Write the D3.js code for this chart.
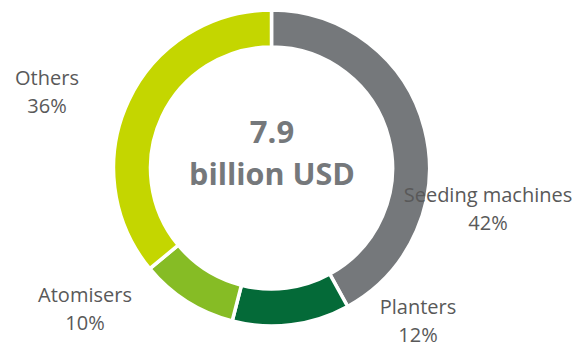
<!DOCTYPE html>
<html>
<head>
<meta charset="utf-8">
<script src="https://cdn.jsdelivr.net/npm/d3@7"></script>
<style>
  html, body { margin: 0; padding: 0; background: #fff; }
  svg { display: block; }
</style>
</head>
<body>
<svg id="chart" width="579" height="347"></svg>
<script>
const categories = ["Seeding machines", "Planters", "Atomisers", "Others"];
const shares = [42, 12, 10, 36];
const shareLabels = ["42%", "12%", "10%", "36%"];
const colors = ["#75787B", "#046A38", "#86BC25", "#C4D600"];
const centerLines = ["7.9", "billion USD"];
// label anchor positions (centre of text block, first baseline)
const labelPos = [[488, 202], [418, 314], [85, 302], [47, 85]];

const svg = d3.select("#chart");
const cx = 271.5, cy = 168, outerR = 158, innerR = 121;

const pie = d3.pie().sort(null).value(d => d.v);
const arc = d3.arc().innerRadius(innerR).outerRadius(outerR);
const data = categories.map((c, i) => ({ c, v: shares[i], i }));

const g = svg.append("g").attr("transform", `translate(${cx},${cy})`);
g.selectAll("path").data(pie(data)).join("path")
  .attr("d", arc)
  .attr("fill", d => colors[d.data.i])
  .attr("stroke", "#fff")
  .attr("stroke-width", 3.5)
  .attr("stroke-linejoin", "miter");

const font = "'Open Sans', sans-serif";
const lab = svg.append("g");
data.forEach((d, i) => {
  const t = lab.append("text")
    .attr("x", labelPos[i][0]).attr("y", labelPos[i][1])
    .attr("text-anchor", "middle")
    .attr("font-family", font).attr("font-size", 20)
    .attr("fill", "#595959");
  t.append("tspan").attr("x", labelPos[i][0]).text(d.c);
  t.append("tspan").attr("x", labelPos[i][0]).attr("dy", 28).text(shareLabels[i]);
});

svg.append("text")
  .attr("x", 272).attr("y", 143)
  .attr("text-anchor", "middle")
  .attr("font-family", font).attr("font-weight", 700).attr("font-size", 31)
  .attr("fill", "#75787B")
  .text(centerLines[0]);
svg.append("text")
  .attr("x", 272).attr("y", 185)
  .attr("text-anchor", "middle")
  .attr("font-family", font).attr("font-weight", 700).attr("font-size", 30.5)
  .attr("fill", "#75787B")
  .text(centerLines[1]);
</script>
</body>
</html>
